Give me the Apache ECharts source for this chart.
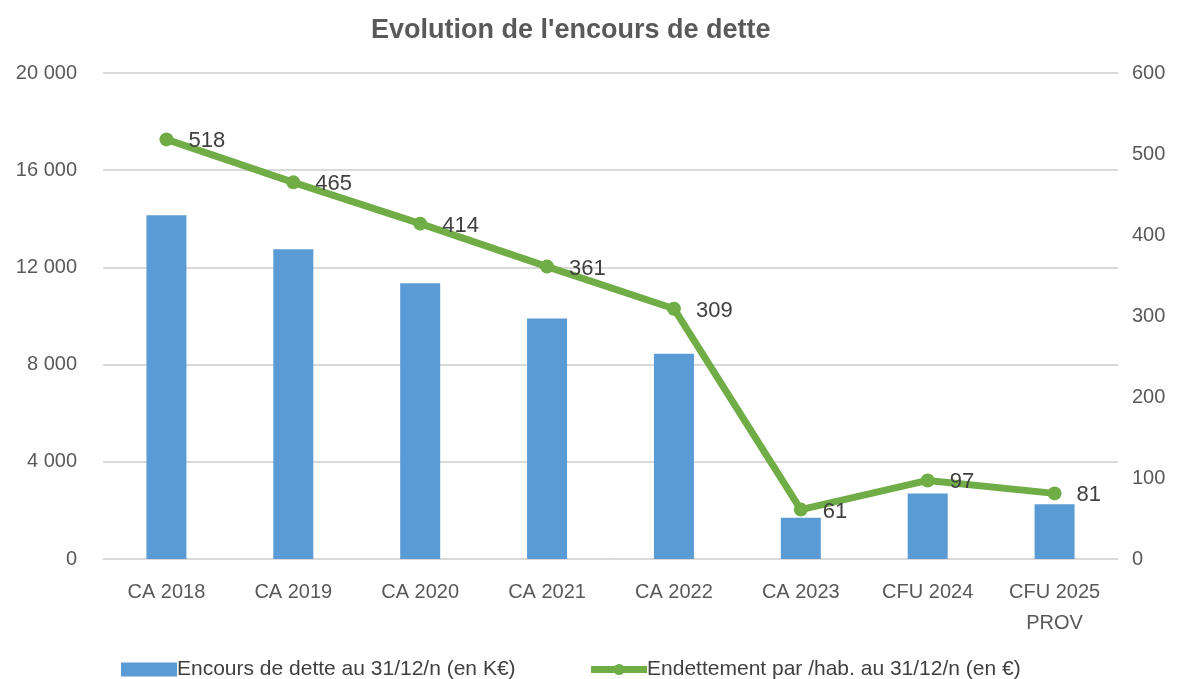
<!DOCTYPE html>
<html>
<head>
<meta charset="utf-8">
<script src="https://cdn.jsdelivr.net/npm/echarts@6/dist/echarts.min.js"></script>
<style>
  html, body { margin: 0; padding: 0; background: #fff; }
  #main { width: 1182px; height: 679px; }
</style>
</head>
<body>
<div id="main"></div>
<script>
var categories = ["CA 2018", "CA 2019", "CA 2020", "CA 2021", "CA 2022", "CA 2023", "CFU 2024", "CFU 2025\nPROV"];
var encours = [14150, 12750, 11350, 9900, 8450, 1700, 2700, 2250];
var parHab = [518, 465, 414, 361, 309, 61, 97, 81];

var font = "'Liberation Sans', sans-serif";
var chart = echarts.init(document.getElementById("main"));

chart.setOption({
  animation: false,
  textStyle: { fontFamily: font },
  title: {
    text: "Evolution de l'encours de dette",
    left: 366,
    top: 12,
    textStyle: { fontSize: 27, fontWeight: "bold", color: "#595959", fontFamily: font }
  },
  legend: {
    top: 654,
    left: 116,
    itemGap: 72,
    itemWidth: 56,
    itemHeight: 14,
    textStyle: { fontSize: 21, color: "#404040", fontFamily: font, padding: [0, 0, 0, -5] },
    data: [
      { name: "Encours de dette au 31/12/n (en K€)", icon: "rect" },
      { name: "Endettement par /hab. au 31/12/n (en €)", lineStyle: { width: 7 }, itemStyle: { color: "#70ad47" } }
    ]
  },
  grid: { left: 103, right: 64, top: 73, bottom: 120 },
  xAxis: {
    type: "category",
    data: categories,
    axisLine: { lineStyle: { color: "#d9d9d9", width: 1 } },
    axisTick: { show: false },
    axisLabel: { fontSize: 20, color: "#595959", margin: 18, lineHeight: 31, fontFamily: font }
  },
  yAxis: [
    {
      type: "value",
      min: 0, max: 20000, interval: 4000,
      axisLine: { show: false },
      axisTick: { show: false },
      splitLine: { lineStyle: { color: "#d9d9d9", width: 2 } },
      axisLabel: {
        fontSize: 20, color: "#595959", margin: 26, fontFamily: font,
        formatter: function (v) { return v >= 1000 ? Math.floor(v / 1000) + " " + String(v % 1000).padStart(3, "0") : String(v); }
      }
    },
    {
      type: "value",
      min: 0, max: 600, interval: 100,
      axisLine: { show: false },
      axisTick: { show: false },
      splitLine: { show: false },
      axisLabel: { fontSize: 20, color: "#595959", margin: 14, fontFamily: font }
    }
  ],
  series: [
    {
      name: "Encours de dette au 31/12/n (en K€)",
      type: "bar",
      data: encours,
      barWidth: 40,
      itemStyle: { color: "#5b9bd5" }
    },
    {
      name: "Endettement par /hab. au 31/12/n (en €)",
      type: "line",
      yAxisIndex: 1,
      data: parHab,
      symbol: "circle",
      symbolSize: 14,
      lineStyle: { color: "#70ad47", width: 7 },
      itemStyle: { color: "#70ad47" },
      label: {
        show: true,
        position: "right",
        distance: 15,
        offset: [0, 2],
        fontSize: 22,
        color: "#404040",
        fontFamily: font
      }
    }
  ]
});
</script>
</body>
</html>
